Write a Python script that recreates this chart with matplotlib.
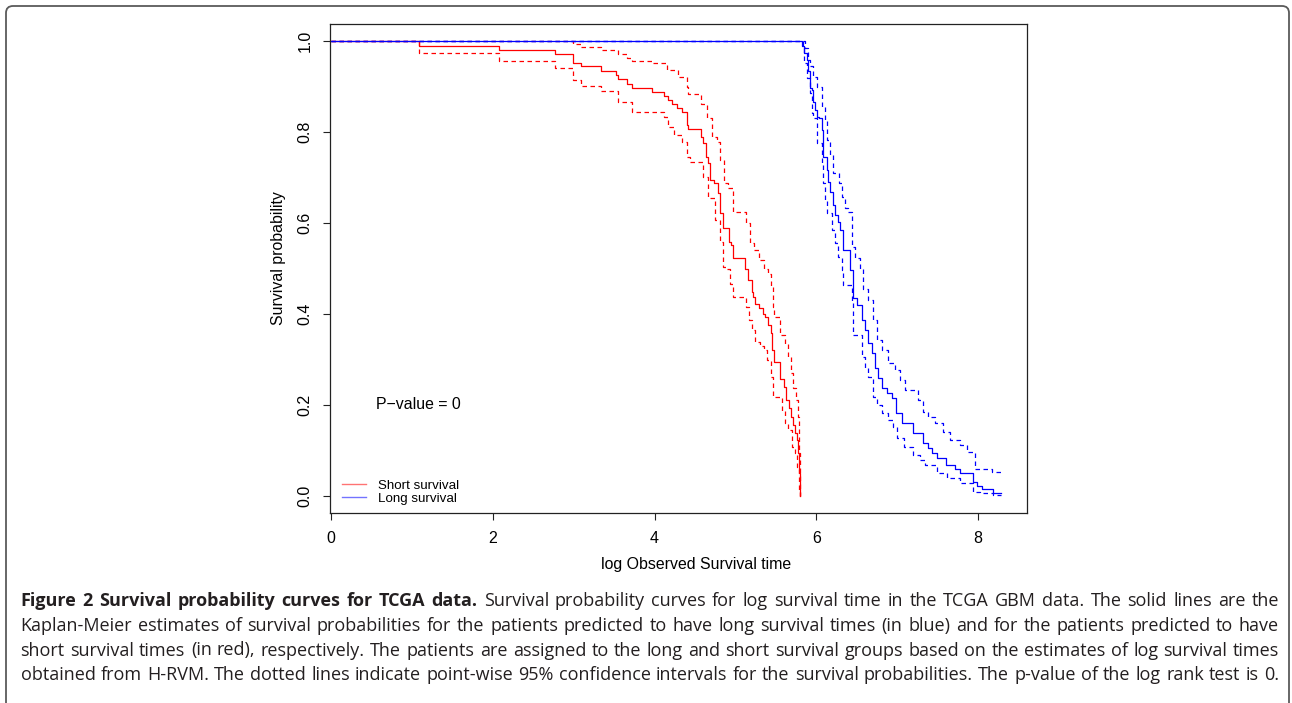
import matplotlib
matplotlib.use("Agg")
import matplotlib.pyplot as plt
from matplotlib.patches import FancyBboxPatch
from matplotlib.transforms import IdentityTransform
from matplotlib.lines import Line2D

# ---------------- Kaplan-Meier curves (log survival time, survival prob) ----------------
# Short survival group: estimate
red_km_t = [0.0, 1.092, 2.077, 2.772, 2.995, 3.091, 3.337, 3.523, 3.543, 3.663, 3.717,
            3.971, 4.120, 4.162, 4.219, 4.273, 4.335, 4.397, 4.417, 4.570, 4.602,
            4.635, 4.664, 4.685, 4.735, 4.787, 4.808, 4.849, 4.924, 4.944, 4.973,
            5.118, 5.158, 5.200, 5.220, 5.241, 5.294, 5.343, 5.364, 5.405, 5.435,
            5.455, 5.476, 5.550, 5.599, 5.624, 5.661, 5.686, 5.707, 5.736, 5.756,
            5.776, 5.788, 5.801]
red_km_s = [1.0, 0.990, 0.980, 0.971, 0.952, 0.944, 0.934, 0.925, 0.916, 0.906, 0.897,
            0.889, 0.879, 0.870, 0.861, 0.852, 0.843, 0.815, 0.806, 0.788, 0.775,
            0.746, 0.731, 0.695, 0.687, 0.665, 0.621, 0.588, 0.559, 0.552, 0.522,
            0.500, 0.475, 0.449, 0.438, 0.422, 0.413, 0.400, 0.394, 0.376, 0.358,
            0.321, 0.294, 0.257, 0.240, 0.211, 0.193, 0.174, 0.156, 0.138, 0.123,
            0.095, 0.051, 0.0]

# Short survival group: 95% confidence band
red_up_t = [0.0, 2.995, 3.091, 3.337, 3.543, 3.663, 3.717, 3.971, 4.150, 4.293, 4.397,
            4.417, 4.570, 4.644, 4.706, 4.768, 4.808, 4.858, 4.911, 4.973, 5.126,
            5.179, 5.229, 5.294, 5.356, 5.405, 5.435, 5.460, 5.476, 5.550, 5.616,
            5.645, 5.682, 5.714, 5.748, 5.769, 5.781, 5.788, 5.797, 5.801]
red_up_s = [1.0, 0.993, 0.987, 0.981, 0.972, 0.963, 0.957, 0.951, 0.936, 0.922, 0.900,
            0.883, 0.862, 0.830, 0.790, 0.779, 0.738, 0.687, 0.676, 0.625, 0.599,
            0.555, 0.541, 0.519, 0.498, 0.489, 0.460, 0.416, 0.393, 0.354, 0.334,
            0.306, 0.270, 0.237, 0.211, 0.174, 0.138, 0.095, 0.007, 0.0]
red_lo_t = [0.0, 1.092, 2.077, 2.772, 2.995, 3.091, 3.337, 3.543, 3.717, 4.120, 4.162,
            4.244, 4.335, 4.397, 4.438, 4.602, 4.664, 4.746, 4.808, 4.849, 4.891,
            4.932, 4.973, 5.126, 5.171, 5.200, 5.241, 5.303, 5.356, 5.386, 5.435,
            5.467, 5.571, 5.612, 5.653, 5.695, 5.735, 5.756, 5.788, 5.801]
red_lo_s = [1.0, 0.973, 0.956, 0.941, 0.914, 0.902, 0.890, 0.867, 0.845, 0.832, 0.812,
            0.793, 0.779, 0.746, 0.735, 0.702, 0.654, 0.607, 0.559, 0.504, 0.500,
            0.467, 0.438, 0.416, 0.387, 0.365, 0.339, 0.330, 0.321, 0.299, 0.262,
            0.218, 0.187, 0.160, 0.145, 0.108, 0.094, 0.064, 0.013, 0.0]

# Long survival group: estimate
blue_km_t = [0.0, 5.826, 5.847, 5.880, 5.900, 5.921, 5.942, 5.954, 5.983, 6.004, 6.036,
             6.065, 6.085, 6.127, 6.147, 6.168, 6.202, 6.230, 6.271, 6.292, 6.325,
             6.415, 6.456, 6.498, 6.560, 6.601, 6.642, 6.684, 6.724, 6.765, 6.807,
             6.869, 6.931, 6.984, 7.054, 7.190, 7.321, 7.383, 7.425, 7.487, 7.602,
             7.713, 7.775, 7.939, 7.981, 8.043, 8.179, 8.278]
blue_km_s = [1.0, 0.989, 0.973, 0.958, 0.933, 0.896, 0.892, 0.867, 0.848, 0.834, 0.830,
             0.804, 0.746, 0.716, 0.691, 0.669, 0.640, 0.618, 0.603, 0.585, 0.541,
             0.497, 0.435, 0.420, 0.387, 0.365, 0.336, 0.314, 0.281, 0.259, 0.237,
             0.226, 0.215, 0.182, 0.160, 0.138, 0.116, 0.105, 0.094, 0.083, 0.068,
             0.059, 0.050, 0.031, 0.022, 0.015, 0.007, 0.007]

# Long survival group: 95% confidence band
blue_up_t = [0.0, 5.859, 5.900, 5.921, 5.962, 6.004, 6.065, 6.106, 6.127, 6.168, 6.209,
             6.283, 6.313, 6.354, 6.394, 6.436, 6.477, 6.539, 6.580, 6.642, 6.703,
             6.745, 6.807, 6.889, 6.972, 7.033, 7.095, 7.260, 7.314, 7.383, 7.466,
             7.569, 7.651, 7.775, 7.858, 7.960, 8.167, 8.278]
blue_up_s = [1.0, 0.985, 0.958, 0.944, 0.922, 0.900, 0.856, 0.826, 0.782, 0.749, 0.709,
             0.687, 0.658, 0.632, 0.625, 0.548, 0.522, 0.500, 0.456, 0.431, 0.387,
             0.343, 0.321, 0.292, 0.277, 0.255, 0.233, 0.211, 0.185, 0.174, 0.160,
             0.141, 0.123, 0.112, 0.097, 0.059, 0.053, 0.053]
blue_lo_t = [0.0, 5.831, 5.847, 5.880, 5.921, 5.942, 5.962, 6.011, 6.065, 6.085, 6.106,
             6.127, 6.189, 6.230, 6.271, 6.313, 6.333, 6.436, 6.456, 6.560, 6.601,
             6.642, 6.703, 6.745, 6.807, 6.889, 6.951, 6.993, 7.083, 7.198, 7.281,
             7.342, 7.487, 7.611, 7.775, 7.932, 8.022, 8.187, 8.278]
blue_lo_s = [1.0, 0.991, 0.951, 0.918, 0.885, 0.841, 0.830, 0.775, 0.731, 0.687, 0.651,
             0.621, 0.585, 0.555, 0.526, 0.497, 0.464, 0.424, 0.354, 0.306, 0.281,
             0.262, 0.218, 0.200, 0.182, 0.167, 0.152, 0.127, 0.108, 0.090, 0.079,
             0.068, 0.050, 0.039, 0.028, 0.009, 0.006, 0.002, 0.002]

x_ticks = [0, 2, 4, 6, 8]
y_ticks = [0.0, 0.2, 0.4, 0.6, 0.8, 1.0]
y_tick_labels = ["0.0", "0.2", "0.4", "0.6", "0.8", "1.0"]
group_labels = ["Short survival", "Long survival"]
group_colors = ["#ff0000", "#0000ff"]
p_value_text = "P\u2212value = 0"

caption_bold = "Figure 2 Survival probability curves for TCGA data."
caption_lines = [
    "Survival probability curves for log survival time in the TCGA GBM data. The solid lines are the",
    "Kaplan-Meier estimates of survival probabilities for the patients predicted to have long survival times (in blue) and for the patients predicted to have",
    "short survival times (in red), respectively. The patients are assigned to the long and short survival groups based on the estimates of log survival times",
    "obtained from H-RVM. The dotted lines indicate point-wise 95% confidence intervals for the survival probabilities. The p-value of the log rank test is 0.",
]

# ---------------- figure ----------------
W, H = 1292, 703
fig = plt.figure(figsize=(W / 100, H / 100), dpi=100)
fig.patch.set_facecolor("white")

# rounded outer frame (open at the bottom)
frame = FancyBboxPatch((6, -30), 1283, (H - 6) + 30,
                       boxstyle="round,pad=0,rounding_size=7",
                       transform=IdentityTransform(), fill=False,
                       edgecolor="#5a5a5a", linewidth=1.3)
fig.patches.append(frame)

ax_l, ax_r, ax_t, ax_b = 330, 1027, 24, 513
ax = fig.add_axes([ax_l / W, (H - ax_b) / H, (ax_r - ax_l) / W, (ax_b - ax_t) / H])

axis_font = "Liberation Sans"
lw = 0.9
dash = (3.6, 2.8)

for (kt, ks, ut, us, lt, ls), col in zip(
        [(red_km_t, red_km_s, red_up_t, red_up_s, red_lo_t, red_lo_s),
         (blue_km_t, blue_km_s, blue_up_t, blue_up_s, blue_lo_t, blue_lo_s)],
        group_colors):
    ax.step(kt, ks, where="post", color=col, lw=lw)
    ax.step(ut, us, where="post", color=col, lw=lw, linestyle=(0, dash))
    ax.step(lt, ls, where="post", color=col, lw=lw, linestyle=(0, dash))

ax.set_xlim(-0.012, 8.603)
ax.set_ylim(-0.0374, 1.0374)
ax.set_xticks(x_ticks)
ax.set_xticklabels([str(v) for v in x_ticks])
ax.set_yticks(y_ticks)
ax.set_yticklabels(y_tick_labels)

for sp in ax.spines.values():
    sp.set_linewidth(0.9)
    sp.set_color("#222222")
ax.tick_params(direction="out", length=5.2, width=0.8, color="#222222",
               labelsize=11.5, pad=7.5)
for lab in ax.get_xticklabels() + ax.get_yticklabels():
    lab.set_fontfamily(axis_font)
for lab in ax.get_yticklabels():
    lab.set_rotation(90)
    lab.set_va("center")

ax.set_xlabel("log Observed Survival time", fontsize=11.4, family=axis_font)
ax.xaxis.set_label_coords((696 - ax_l) / (ax_r - ax_l), -(565 - ax_b) / (ax_b - ax_t))
ax.xaxis.label.set_va("center")
ax.set_ylabel("Survival probability", fontsize=11.4, family=axis_font)
ax.yaxis.set_label_coords(-(ax_l - 278) / (ax_r - ax_l), (ax_b - 258) / (ax_b - ax_t))
ax.yaxis.label.set_va("center")

ax.text(0.556, 0.2, p_value_text, fontsize=11.4, family=axis_font,
        ha="left", va="center")

handles = [Line2D([], [], color=c, lw=1.0, alpha=0.55) for c in group_colors]
ax.legend(handles, group_labels, loc="lower left",
          bbox_to_anchor=((342 - ax_l) / (ax_r - ax_l), (ax_b - 505) / (ax_b - ax_t)),
          borderpad=0, borderaxespad=0, frameon=False, handlelength=1.8,
          handletextpad=0.9, labelspacing=0.05,
          prop={"family": axis_font, "size": 9.6})

# ---------------- justified caption ----------------
cap_font = "Open Sans"
renderer = fig.canvas.get_renderer()
x0, x1 = 20.5, 1279.0
baselines = [606.5, 631.0, 655.5, 680.0]

line_words = []
for i, line in enumerate(caption_lines):
    words = [(w, "normal") for w in line.split(" ")]
    if i == 0:
        words = [(w, "bold") for w in caption_bold.split(" ")] + words
    line_words.append(words)


def measure(word, size, weight):
    t = fig.text(0, 0, word, fontsize=size, family=cap_font, fontweight=weight,
                 transform=IdentityTransform())
    wd = t.get_window_extent(renderer).width
    t.remove()
    return wd


def natural_width(words, size):
    space = measure("a a", size, "normal") - measure("aa", size, "normal")
    return sum(measure(w, size, wt) for w, wt in words) + space * (len(words) - 1)


base = 12.0
ratio = min((x1 - x0) / natural_width(ws, base) for ws in line_words)
cap_size = base * ratio * 0.99

for words, yb in zip(line_words, baselines):
    objs = []
    widths = []
    for w, wt in words:
        t = fig.text(0, 0, w, fontsize=cap_size, family=cap_font, fontweight=wt,
                     transform=IdentityTransform(), va="baseline", ha="left",
                     color="#231f20")
        objs.append(t)
        widths.append(t.get_window_extent(renderer).width)
    gap = (x1 - x0 - sum(widths)) / (len(words) - 1)
    x = x0
    for t, wd in zip(objs, widths):
        t.set_position((x, H - yb))
        x += wd + gap

fig.savefig("out.png", dpi=100)
